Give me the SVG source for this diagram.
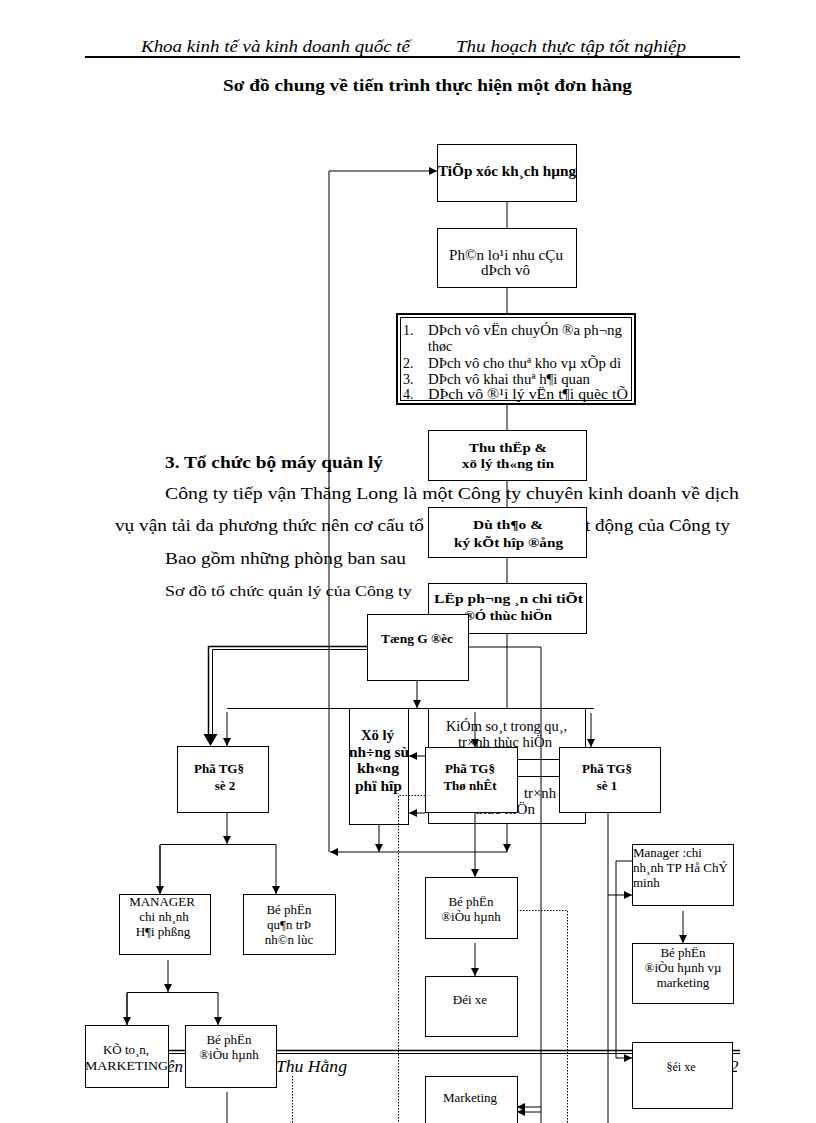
<svg xmlns="http://www.w3.org/2000/svg" width="816" height="1123" viewBox="0 0 816 1123">
<style>
text{font-family:"Liberation Serif","Times New Roman",serif;fill:#000}
.b{font-weight:bold}
.i{font-style:italic}
.box{fill:#fff;stroke:#000;stroke-width:1}
.ln{fill:none;stroke:#000;stroke-width:1}
.dot{fill:none;stroke:#000;stroke-width:1;stroke-dasharray:1.5 1.5}
.c{text-anchor:middle}
</style>
<defs>
<marker id="ah" viewBox="0 0 8 8" refX="8" refY="4" markerWidth="8" markerHeight="8" markerUnits="userSpaceOnUse" orient="auto"><path d="M0,0 L8,4 L0,8 z" fill="#000"/></marker>
</defs>
<rect width="816" height="1123" fill="#fff"/>
<g id="header">
<text class="i" x="141" y="52" font-size="16" textLength="269" lengthAdjust="spacingAndGlyphs">Khoa kinh tế và kinh doanh quốc tế</text>
<text class="i" x="456" y="52" font-size="16" textLength="230" lengthAdjust="spacingAndGlyphs">Thu hoạch thực tập tốt nghiệp</text>
<line x1="85" y1="57" x2="740" y2="57" stroke="#000" stroke-width="2"/>
<text class="b" x="223" y="91" font-size="16" textLength="409" lengthAdjust="spacingAndGlyphs">Sơ đồ chung về tiến trình thực hiện một đơn hàng</text>
</g>
<g id="body-text">
<text class="b" x="165" y="468" font-size="17" textLength="218" lengthAdjust="spacingAndGlyphs">3. Tổ chức bộ máy quản lý</text>
<text x="165" y="499" font-size="17" textLength="574" lengthAdjust="spacingAndGlyphs">Công ty tiếp vận Thăng Long là một Công ty chuyên kinh doanh về dịch</text>
<text x="115" y="531" font-size="17" textLength="309" lengthAdjust="spacingAndGlyphs">vụ vận tải đa phương thức nên cơ cấu tổ</text>
<text x="585" y="531" font-size="17" textLength="145" lengthAdjust="spacingAndGlyphs">t động của Công ty</text>
<text x="165" y="564" font-size="17" textLength="241" lengthAdjust="spacingAndGlyphs">Bao gồm những phòng ban sau</text>
<text x="165" y="596" font-size="15" textLength="247" lengthAdjust="spacingAndGlyphs">Sơ đồ tổ chức quản lý của Công ty</text>
</g>
<g id="footer">
<line x1="85" y1="1050.5" x2="740" y2="1050.5" stroke="#000" stroke-width="1.5"/>
<line x1="85" y1="1053.5" x2="740" y2="1053.5" stroke="#000" stroke-width="1"/>
<text class="i" x="167" y="1072" font-size="17">ên</text>
<text class="i" x="276" y="1072" font-size="17" textLength="71" lengthAdjust="spacingAndGlyphs">Thu Hằng</text>
<text class="i" x="730" y="1072" font-size="17">2</text>
</g>
<g id="n-xuly">
<rect class="box" x="349.5" y="708.5" width="59" height="116"/>
<text class="b" x="361" y="740" font-size="15" textLength="33" lengthAdjust="spacingAndGlyphs">Xö lý</text>
<text class="b" x="349" y="757" font-size="15" textLength="60" lengthAdjust="spacingAndGlyphs">nh÷ng sù</text>
<text class="b" x="357" y="773" font-size="15" textLength="42" lengthAdjust="spacingAndGlyphs">kh«ng</text>
<text class="b" x="355" y="791" font-size="15" textLength="47" lengthAdjust="spacingAndGlyphs">phï hîp</text>
</g>
<g id="n-kiemsoat">
<rect class="box" x="428.5" y="708.5" width="157" height="115"/>
<text x="446" y="731" font-size="15" textLength="121" lengthAdjust="spacingAndGlyphs">KiÓm so¸t trong qu¸,</text>
<text x="458" y="747" font-size="15" textLength="94" lengthAdjust="spacingAndGlyphs">tr×nh thùc hiÖn</text>
<text x="524" y="798" font-size="15" textLength="32" lengthAdjust="spacingAndGlyphs">tr×nh</text>
<text x="475" y="814" font-size="15" textLength="60" lengthAdjust="spacingAndGlyphs">thùc hiÖn</text>
</g>
<g id="connectors">
<path class="ln" d="M329,852 V171 H437" marker-end="url(#ah)"/>
<path class="ln" d="M507,852 H330" marker-end="url(#ah)"/>
<path class="ln" d="M507,201 V708"/>
<path class="ln" d="M507,824 V852" marker-end="url(#ah)"/>
<path class="ln" d="M468,647 H541 V1123"/>
<path fill="none" stroke="#000" stroke-width="1.5" d="M367,646.5 H208.5 V738"/>
<path class="ln" d="M367,649.5 H212.5 V738"/>
<path d="M203.5,734 L217.5,734 L210.5,746 z" fill="#000"/>
<path class="ln" d="M417,680 V708" marker-end="url(#ah)"/>
<path class="ln" d="M227,708.5 H594"/>
<path class="ln" d="M227,712 V746" marker-end="url(#ah)"/>
<path class="ln" d="M591,713 V747" marker-end="url(#ah)"/>
<path class="ln" d="M475,712 V747" marker-end="url(#ah)"/>
<path class="ln" d="M425,756 H409" marker-end="url(#ah)"/>
<path class="ln" d="M425,813 H409" marker-end="url(#ah)"/>
<path class="ln" d="M517,759.5 H559"/>
<path class="ln" d="M517,776.5 H559"/>
<path class="ln" d="M379,825 V852" marker-end="url(#ah)"/>
<path class="ln" d="M475,812 V877" marker-end="url(#ah)"/>
<path class="ln" d="M608,812 V1123"/>
<path class="ln" d="M608,895 H632" marker-end="url(#ah)"/>
<path class="ln" d="M632,861 H616 V1058 H632" marker-end="url(#ah)"/>
<path class="ln" d="M683,911 V943" marker-end="url(#ah)"/>
<path class="ln" d="M475,943 V976" marker-end="url(#ah)"/>
<path class="ln" d="M541,1107 H517" marker-end="url(#ah)"/>
<path class="ln" d="M541,1112 H517" marker-end="url(#ah)"/>
<path class="ln" d="M227,812 V844" marker-end="url(#ah)"/>
<path class="ln" d="M160,894 V844.5 H276 V894" marker-end="url(#ah)"/>
<path class="ln" d="M160,845 V894" marker-end="url(#ah)"/>
<path class="ln" d="M168,960 V992" marker-end="url(#ah)"/>
<path class="ln" d="M127,1025 V992.5 H218 V1025" marker-end="url(#ah)"/>
<path class="ln" d="M127,993 V1025" marker-end="url(#ah)"/>
<path class="ln" d="M227,1092 V1123"/>
<path class="dot" d="M428,795.5 H398.5 V1123"/>
<path class="dot" d="M517,910.5 H567.5 V1123"/>
<path class="dot" d="M292.5,1076 V1123"/>
</g>
<g id="n-tiepxuc">
<rect class="box" x="437.5" y="144.5" width="139" height="57"/>
<text class="b" x="438" y="176" font-size="14" textLength="138" lengthAdjust="spacingAndGlyphs">TiÕp xóc kh¸ch hµng</text>
</g>
<g id="n-phanloai">
<rect class="box" x="437.5" y="228.5" width="139" height="59"/>
<text x="449" y="260" font-size="14" textLength="114" lengthAdjust="spacingAndGlyphs">Ph©n lo¹i nhu cÇu</text>
<text x="481" y="275" font-size="14" textLength="49" lengthAdjust="spacingAndGlyphs">dÞch vô</text>
</g>
<g id="n-dichvu">
<rect x="397" y="314" width="238" height="90" fill="#fff" stroke="#000" stroke-width="2"/>
<rect x="400.5" y="317.5" width="231" height="83" fill="none" stroke="#000" stroke-width="1"/>
<text x="403" y="335" font-size="14">1.</text>
<text x="428" y="335" font-size="14" textLength="194" lengthAdjust="spacingAndGlyphs">DÞch vô vËn chuyÓn ®a ph¬ng</text>
<text x="428" y="351" font-size="14">thøc</text>
<text x="403" y="368" font-size="14">2.</text>
<text x="428" y="368" font-size="14" textLength="193" lengthAdjust="spacingAndGlyphs">DÞch vô cho thuª kho vµ xÕp dì</text>
<text x="403" y="384" font-size="14">3.</text>
<text x="428" y="384" font-size="14" textLength="162" lengthAdjust="spacingAndGlyphs">DÞch vô khai thuª h¶i quan</text>
<text x="403" y="399" font-size="14">4.</text>
<text x="428" y="399" font-size="14" textLength="200" lengthAdjust="spacingAndGlyphs">DÞch vô ®¹i lý vËn t¶i quèc tÕ</text>
</g>
<g id="n-thuthap">
<rect class="box" x="428.5" y="430.5" width="158" height="50"/>
<text class="b" x="469" y="452" font-size="13" textLength="78" lengthAdjust="spacingAndGlyphs">Thu thËp &amp;</text>
<text class="b" x="462" y="468" font-size="13" textLength="92" lengthAdjust="spacingAndGlyphs">xö lý th«ng tin</text>
</g>
<g id="n-duthao">
<rect class="box" x="428.5" y="507.5" width="158" height="50"/>
<text class="b" x="473" y="529" font-size="13" textLength="70" lengthAdjust="spacingAndGlyphs">Dù th¶o &amp;</text>
<text class="b" x="454" y="547" font-size="13" textLength="109" lengthAdjust="spacingAndGlyphs">ký kÕt hîp ®ång</text>
</g>
<g id="n-lapphuongan">
<rect class="box" x="428.5" y="583.5" width="158" height="50"/>
<text class="b" x="434" y="603" font-size="13" textLength="149" lengthAdjust="spacingAndGlyphs">LËp ph¬ng  ¸n chi tiÕt</text>
<text class="b" x="464" y="620" font-size="13" textLength="88" lengthAdjust="spacingAndGlyphs">®Ó thùc hiÖn</text>
</g>
<g id="n-tonggiamdoc">
<rect class="box" x="367.5" y="614.5" width="101" height="66"/>
<text class="b" x="381" y="643" font-size="13" textLength="72" lengthAdjust="spacingAndGlyphs">Tæng  G ®èc</text>
</g>
<g id="n-photgd1st">
<rect class="box" x="425.5" y="747.5" width="92" height="65"/>
<text class="b c" x="470" y="773" font-size="13">Phã TG§</text>
<text class="b c" x="470" y="790" font-size="13">Thø nhÊt</text>
</g>
<g id="n-photgd1">
<rect class="box" x="559.5" y="747.5" width="101" height="65"/>
<text class="b c" x="607" y="773" font-size="13">Phã TG§</text>
<text class="b c" x="607" y="790" font-size="13">sè 1</text>
</g>
<g id="n-photgd2">
<rect class="box" x="177.5" y="746.5" width="91" height="66"/>
<text class="b c" x="219" y="773" font-size="13">Phã TG§</text>
<text class="b c" x="225" y="790" font-size="13">sè 2</text>
</g>
<g id="n-manager-hp">
<rect class="box" x="119.5" y="894.5" width="91" height="60"/>
<text class="c" x="162" y="906" font-size="13">MANAGER</text>
<text class="c" x="164" y="921" font-size="13">chi nh¸nh</text>
<text class="c" x="163" y="936" font-size="13">H¶i phßng</text>
</g>
<g id="n-nhanluc">
<rect class="box" x="243.5" y="894.5" width="92" height="60"/>
<text class="c" x="289" y="914" font-size="13">Bé phËn</text>
<text class="c" x="289" y="929" font-size="13">qu¶n trÞ</text>
<text class="c" x="289" y="944" font-size="13">nh©n lùc</text>
</g>
<g id="n-ketoan">
<rect class="box" x="85.5" y="1025.5" width="83" height="62"/>
<text class="c" x="126" y="1054" font-size="13">KÕ to¸n,</text>
<text x="85" y="1070" font-size="13" textLength="83" lengthAdjust="spacingAndGlyphs">MARKETING</text>
</g>
<g id="n-dieuhanh-hp">
<rect class="box" x="185.5" y="1025.5" width="91" height="62"/>
<text class="c" x="229" y="1044" font-size="13">Bé phËn</text>
<text class="c" x="229" y="1059" font-size="13">®iÒu hµnh</text>
</g>
<g id="n-dieuhanh">
<rect class="box" x="425.5" y="877.5" width="92" height="61"/>
<text class="c" x="471" y="906" font-size="13">Bé phËn</text>
<text class="c" x="471" y="921" font-size="13">®iÒu hµnh</text>
</g>
<g id="n-doixe">
<rect class="box" x="425.5" y="976.5" width="92" height="60"/>
<text class="c" x="470" y="1004" font-size="13">Đéi xe</text>
</g>
<g id="n-marketing">
<rect class="box" x="425.5" y="1076.5" width="92" height="60"/>
<text class="c" x="470" y="1102" font-size="13">Marketing</text>
</g>
<g id="n-manager-hcm">
<rect class="box" x="632.5" y="844.5" width="101" height="61"/>
<text x="633" y="857" font-size="13">Manager :chi</text>
<text x="633" y="872" font-size="13" textLength="95" lengthAdjust="spacingAndGlyphs">nh¸nh TP Hå ChÝ</text>
<text x="633" y="887" font-size="13">minh</text>
</g>
<g id="n-dieuhanh-mkt">
<rect class="box" x="632.5" y="943.5" width="101" height="60"/>
<text class="c" x="683" y="957" font-size="13">Bé phËn</text>
<text class="c" x="683" y="972" font-size="13">®iÒu hµnh vµ</text>
<text class="c" x="683" y="987" font-size="13">marketing</text>
</g>
<g id="n-doixe-hcm">
<rect class="box" x="632.5" y="1042.5" width="100" height="66"/>
<text class="c" x="681" y="1071" font-size="12">§éi xe</text>
</g>
</svg>
